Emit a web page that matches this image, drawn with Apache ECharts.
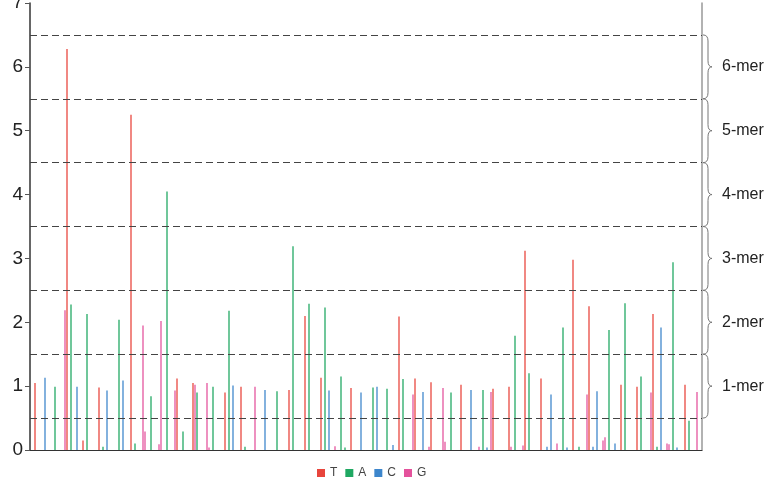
<!DOCTYPE html>
<html>
<head>
<meta charset="utf-8">
<script src="https://cdn.jsdelivr.net/npm/echarts@6/dist/echarts.min.js"></script>
<style>
  html, body { margin: 0; padding: 0; background: #fff; }
  #chart { width: 784px; height: 488px; }
</style>
</head>
<body>
<div id="chart"></div>
<script>
// slot count on the x axis (each slot ~2px wide)
const slotCount = 336
const categories = Array.from({ length: slotCount }, (_, i) => String(i))

// bar positions (slot index) and heights, one pair of arrays per base
const tPos = [2, 18, 26, 34, 50, 73, 81, 97, 105, 129, 137, 145, 160, 184, 192, 200, 215, 231, 239, 247, 255, 271, 279, 295, 303, 311, 327]
const tVal = [1.05, 6.28, 0.15, 0.98, 5.25, 1.12, 1.05, 0.9, 0.99, 0.94, 2.1, 1.13, 0.97, 2.09, 1.12, 1.06, 1.02, 0.96, 0.99, 3.12, 1.12, 2.98, 2.25, 1.02, 0.99, 2.13, 1.02]

const aPos = [12, 20, 28, 36, 44, 52, 60, 68, 76, 83, 91, 99, 107, 123, 131, 139, 147, 155, 157, 171, 178, 186, 210, 226, 242, 249, 266, 274, 289, 297, 305, 313, 321, 329]
const aVal = [0.99, 2.28, 2.13, 0.05, 2.04, 0.1, 0.84, 4.05, 0.29, 0.9, 0.99, 2.18, 0.05, 0.92, 3.19, 2.29, 2.23, 1.15, 0.04, 0.98, 0.96, 1.11, 0.9, 0.94, 1.79, 1.2, 1.92, 0.05, 1.88, 2.3, 1.15, 0.05, 2.94, 0.46]

const cPos = [7, 23, 38, 46, 101, 117, 149, 165, 173, 181, 196, 220, 228, 258, 260, 268, 281, 283, 292, 315, 323]
const cVal = [1.13, 0.99, 0.93, 1.09, 1.01, 0.94, 0.93, 0.9, 0.99, 0.08, 0.91, 0.94, 0.04, 0.05, 0.87, 0.04, 0.05, 0.92, 0.1, 1.92, 0.04]

const gPos = [17, 56, 57, 64, 65, 72, 82, 88, 89, 112, 152, 191, 199, 206, 207, 224, 230, 240, 246, 263, 278, 286, 287, 310, 318, 319, 333]
const gVal = [2.19, 1.95, 0.29, 0.09, 2.02, 0.93, 1.02, 1.05, 0.04, 0.99, 0.06, 0.87, 0.05, 0.97, 0.13, 0.05, 0.91, 0.05, 0.07, 0.1, 0.87, 0.15, 0.2, 0.9, 0.1, 0.09, 0.91]

// dashed separators and k-mer bands
const dashLevels = [0.5, 1.5, 2.5, 3.5, 4.5, 5.5, 6.5]
const merBands = [[0.5, 1.5], [1.5, 2.5], [2.5, 3.5], [3.5, 4.5], [4.5, 5.5], [5.5, 6.5]]

const baseNames = ['T', 'A', 'C', 'G']
const baseColors = ['#e8453c', '#1fa862', '#3d86cc', '#e4529c']

function toSlots(pos, val) {
  const arr = new Array(slotCount).fill(null)
  pos.forEach((p, i) => { arr[p] = val[i] })
  return arr
}

const seriesData = [toSlots(tPos, tVal), toSlots(aPos, aVal), toSlots(cPos, cVal), toSlots(gPos, gVal)]

const chart = echarts.init(document.getElementById('chart'))

const barSeries = baseNames.map((name, i) => ({
  name: name,
  type: 'bar',
  data: seriesData[i],
  barWidth: 1.6,
  barGap: '-100%',
  itemStyle: { color: baseColors[i], opacity: 0.8 },
  emphasis: { disabled: true },
  markLine: i === 0 ? {
    silent: true,
    symbol: 'none',
    label: { show: false },
    lineStyle: { color: '#444', width: 1, type: [7, 4] },
    data: dashLevels.map(v => ({ yAxis: v }))
  } : undefined
}))

// curly braces to the right of the plot
const braceSeries = {
  type: 'custom',
  coordinateSystem: 'cartesian2d',
  clip: false,
  silent: true,
  data: merBands.map(b => [0, b[0], b[1]]),
  renderItem: (params, api) => {
    const cs = params.coordSys
    const yb = api.coord([0, api.value(1)])[1]
    const yt = api.coord([0, api.value(2)])[1]
    const ym = (yt + yb) / 2
    const x0 = cs.x + cs.width + 1
    const x1 = x0 + 5
    const x2 = x0 + 9
    const r = 6
    const d = `M${x0} ${yt} Q${x1} ${yt} ${x1} ${yt + r} L${x1} ${ym - r} Q${x1} ${ym} ${x2} ${ym} ` +
      `Q${x1} ${ym} ${x1} ${ym + r} L${x1} ${yb - r} Q${x1} ${yb} ${x0} ${yb}`
    return {
      type: 'path',
      shape: { pathData: d },
      style: { fill: null, stroke: '#777', lineWidth: 1 }
    }
  }
}

const option = {
  animation: false,
  backgroundColor: '#fff',
  textStyle: { fontFamily: 'Liberation Sans, Arial, sans-serif' },
  grid: { left: 30, right: 82, top: 3, bottom: 38, outerBoundsMode: 'none' },
  legend: {
    left: 312,
    bottom: 4,
    icon: 'rect',
    itemWidth: 8,
    itemHeight: 8,
    itemGap: 8,
    textStyle: { fontSize: 12, color: '#444' },
    data: baseNames.map((n, i) => ({ name: n, itemStyle: { color: baseColors[i], opacity: 1 } }))
  },
  xAxis: {
    type: 'category',
    data: categories,
    axisLine: { lineStyle: { color: '#333', width: 1 } },
    axisTick: { interval: 1, length: 3, lineStyle: { color: '#555' } },
    axisLabel: { show: false },
    splitLine: { show: false }
  },
  yAxis: [
    {
      type: 'value',
      min: 0,
      max: 7,
      interval: 1,
      axisLine: { show: true, lineStyle: { color: '#333', width: 1.5 } },
      axisTick: { show: true, length: 5, lineStyle: { color: '#555' } },
      axisLabel: { fontSize: 19, color: '#222', margin: 7 },
      splitLine: { show: false }
    },
    {
      type: 'value',
      position: 'right',
      min: 0,
      max: 7,
      interval: 1,
      axisLine: { show: true, lineStyle: { color: '#999', width: 1.5 } },
      axisTick: { show: false },
      axisLabel: {
        fontSize: 16,
        color: '#222',
        margin: 20,
        formatter: v => (v >= 1 && v <= 6 ? v + '-mer' : '')
      },
      splitLine: { show: false }
    }
  ],
  series: [...barSeries, braceSeries]
}

chart.setOption(option)
</script>
</body>
</html>
